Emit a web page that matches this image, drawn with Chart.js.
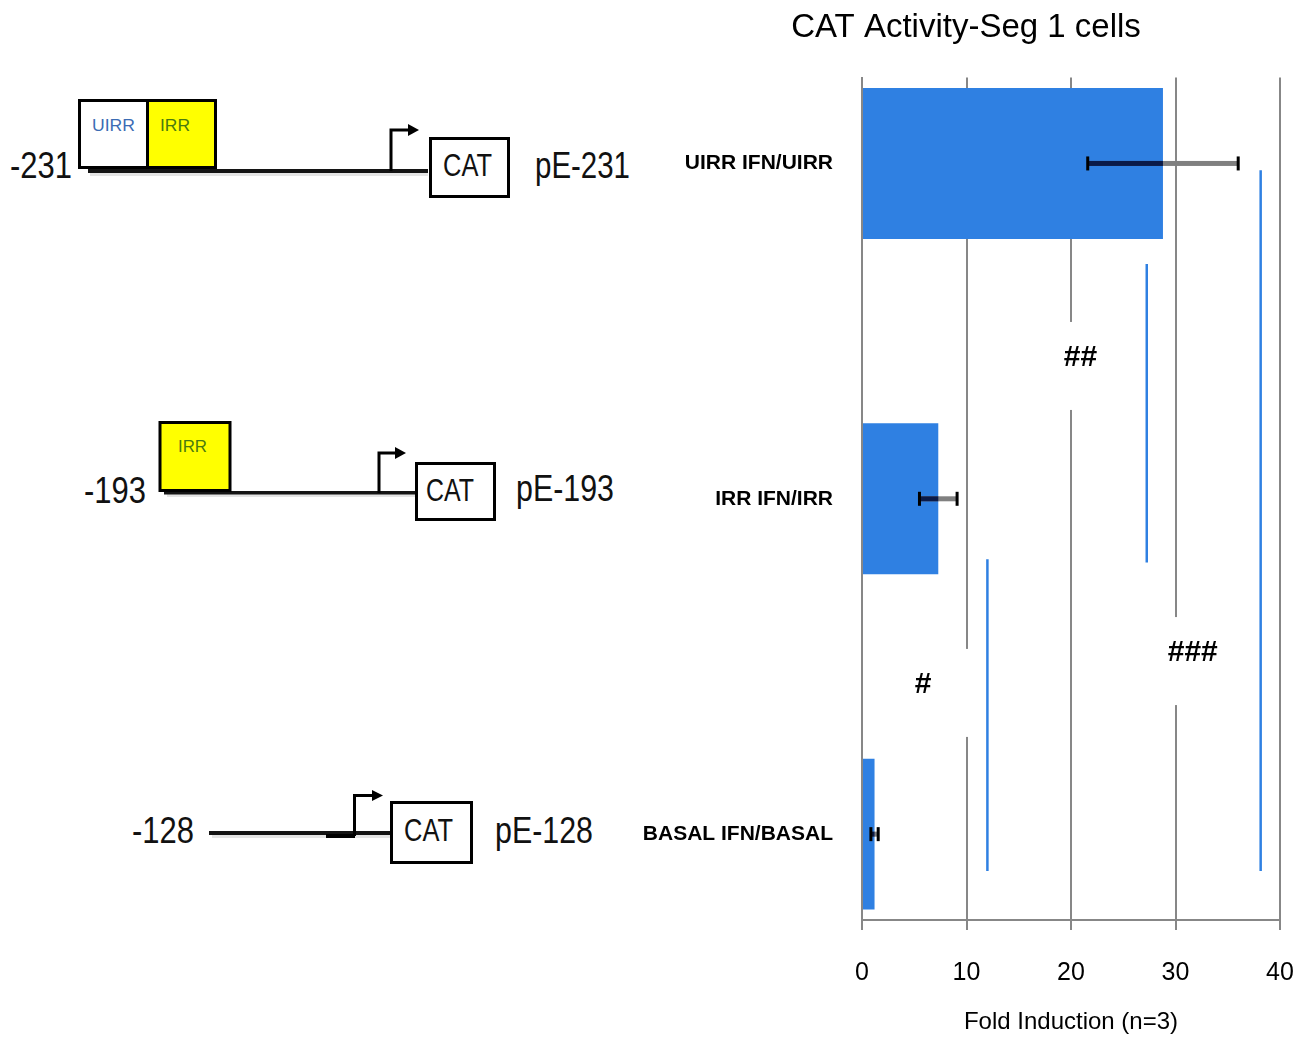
<!DOCTYPE html>
<html>
<head>
<meta charset="utf-8">
<script src="https://cdn.jsdelivr.net/npm/chart.js@4.4.0/dist/chart.umd.min.js"></script>
<style>
  html, body { margin: 0; padding: 0; background: #fff; }
  #wrap { position: relative; width: 1309px; height: 1038px; overflow: hidden; }
  #diagram { position: absolute; left: 0; top: 0; }
  #diagram text { font-family: "Liberation Sans", Arial, sans-serif; fill: #111; }
  #chartBox { position: absolute; left: 630px; top: 0; }
</style>
</head>
<body>
<div id="wrap">
  <svg id="diagram" width="640" height="1038" xmlns="http://www.w3.org/2000/svg">
    <!-- pE-231 -->
    <text x="10" y="178" font-size="36" textLength="62" lengthAdjust="spacingAndGlyphs">-231</text>
    <rect x="90" y="173" width="338" height="3" fill="#e4e4e4"/>
    <rect x="88" y="169" width="340" height="4" fill="#141414"/>
    <rect x="79.5" y="100.5" width="68" height="67" fill="#fff" stroke="#000" stroke-width="3"/>
    <rect x="147.5" y="100.5" width="68" height="67" fill="#ffff00" stroke="#000" stroke-width="3"/>
    <text x="92" y="131" font-size="17" textLength="43" lengthAdjust="spacingAndGlyphs" style="fill:#3b6cb4">UIRR</text>
    <text x="160" y="131" font-size="17" textLength="30" lengthAdjust="spacingAndGlyphs" style="fill:#4a7a10">IRR</text>
    <polyline points="391,171 391,130 412,130" fill="none" stroke="#000" stroke-width="3"/>
    <polygon points="408,124 419,130 408,136" fill="#000"/>
    <rect x="430.5" y="138.5" width="78" height="58" fill="#fff" stroke="#000" stroke-width="3"/>
    <text x="443" y="176" font-size="32" textLength="49" lengthAdjust="spacingAndGlyphs">CAT</text>
    <text x="535" y="178" font-size="36" textLength="95" lengthAdjust="spacingAndGlyphs">pE-231</text>

    <!-- pE-193 -->
    <text x="84" y="503" font-size="36" textLength="62" lengthAdjust="spacingAndGlyphs">-193</text>
    <rect x="167" y="494" width="248" height="3" fill="#e4e4e4"/>
    <rect x="164" y="491" width="251" height="3.5" fill="#141414"/>
    <rect x="160" y="422.5" width="70" height="68" fill="#ffff00" stroke="#000" stroke-width="3"/>
    <text x="178" y="452" font-size="17" textLength="29" lengthAdjust="spacingAndGlyphs" style="fill:#4a7a10">IRR</text>
    <polyline points="379,493 379,453 398,453" fill="none" stroke="#000" stroke-width="3"/>
    <polygon points="395,447 406,453 395,459" fill="#000"/>
    <rect x="416.5" y="463.5" width="78" height="56" fill="#fff" stroke="#000" stroke-width="3"/>
    <text x="426" y="501" font-size="32" textLength="48" lengthAdjust="spacingAndGlyphs">CAT</text>
    <text x="516" y="501" font-size="36" textLength="98" lengthAdjust="spacingAndGlyphs">pE-193</text>

    <!-- pE-128 -->
    <text x="132" y="843" font-size="36" textLength="62" lengthAdjust="spacingAndGlyphs">-128</text>
    <rect x="212" y="835" width="178" height="3" fill="#e4e4e4"/>
    <rect x="209" y="831" width="181" height="4" fill="#141414"/>
    <rect x="326" y="834" width="29" height="4" fill="#000"/>
    <polyline points="354.5,836 354.5,795.5 376,795.5" fill="none" stroke="#000" stroke-width="3"/>
    <polygon points="372,790 383,795.5 372,801" fill="#000"/>
    <rect x="391.5" y="802.5" width="80" height="60" fill="#fff" stroke="#000" stroke-width="3"/>
    <text x="404" y="841" font-size="32" textLength="49" lengthAdjust="spacingAndGlyphs">CAT</text>
    <text x="495" y="843" font-size="36" textLength="98" lengthAdjust="spacingAndGlyphs">pE-128</text>
  </svg>
  <div id="chartBox"><canvas id="chart" width="672" height="1038"></canvas></div>
</div>
<script>
const constructs = ['UIRR IFN/UIRR', 'IRR IFN/IRR', 'BASAL IFN/BASAL'];
const foldInduction = [28.8, 7.3, 1.2];
const foldError = [7.2, 1.8, 0.35];
const xTicks = [0, 10, 20, 30, 40];

// significance brackets: fold position and the rows they join
const sigX = [38.15, 27.25, 12.0];
const sigFrom = [0.02, 0.3, 1.18];
const sigTo = [2.11, 1.19, 2.11];
const sigLabels = ['###', '##', '#'];
const sigLabelX = [31.65, 20.9, 5.85];
const sigLabelRow = [1.46, 0.58, 1.555];

const gridGray = '#878787';
const barBlue = '#2f80e2';
const family = '"Liberation Sans", Arial, sans-serif';

const markLabels = {
  id: 'markLabels',
  beforeDatasetsDraw(chart) {
    const {ctx, scales: {x, y}} = chart;
    ctx.save();
    sigLabels.forEach((txt, i) => {
      const px = x.getPixelForValue(sigLabelX[i]);
      const py = y.getPixelForValue(sigLabelRow[i]);
      ctx.fillStyle = '#fff';
      ctx.fillRect(px - 50, py - 36, 100, 88);
      ctx.fillStyle = '#000';
      ctx.font = 'bold 30px ' + family;
      ctx.textAlign = 'center';
      ctx.textBaseline = 'middle';
      ctx.fillText(txt, px, py);
    });
    ctx.restore();
  }
};

const errorBars = {
  id: 'errorBars',
  afterDatasetsDraw(chart) {
    const {ctx, scales: {x}} = chart;
    const meta = chart.getDatasetMeta(0);
    ctx.save();
    meta.data.forEach((bar, i) => {
      const lo = x.getPixelForValue(foldInduction[i] - foldError[i]);
      const hi = x.getPixelForValue(foldInduction[i] + foldError[i]);
      const end = bar.x;
      const cy = bar.y;
      ctx.fillStyle = '#808080';
      ctx.fillRect(lo, cy - 2.5, hi - lo, 5);
      ctx.fillStyle = '#0a1a48';
      ctx.fillRect(lo, cy - 2.5, Math.min(hi, end) - lo, 5);
      ctx.fillStyle = '#000';
      ctx.fillRect(lo - 1.5, cy - 7, 3, 14);
      ctx.fillRect(hi - 1.5, cy - 7, 3, 14);
    });
    ctx.restore();
  }
};

const datasets = [{
  type: 'bar',
  indexAxis: 'y',
  data: foldInduction.map((v, i) => ({x: v, y: i})),
  backgroundColor: barBlue,
  borderWidth: 0,
  barPercentage: 0.9,
  categoryPercentage: 0.5
}];
sigX.forEach((sx, i) => {
  datasets.push({
    type: 'line',
    data: [{x: sx, y: sigFrom[i]}, {x: sx, y: sigTo[i]}],
    borderColor: barBlue,
    borderWidth: 2.5,
    pointRadius: 0,
    fill: false
  });
});

new Chart(document.getElementById('chart').getContext('2d'), {
  type: 'bar',
  data: {datasets: datasets},
  options: {
    indexAxis: 'y',
    responsive: false,
    animation: false,
    layout: {padding: 0},
    plugins: {
      legend: {display: false},
      tooltip: {enabled: false},
      title: {
        display: true,
        text: 'CAT Activity-Seg 1 cells',
        color: '#000',
        font: {family: family, size: 33, weight: 'normal'},
        padding: {top: 8, bottom: 30}
      }
    },
    scales: {
      x: {
        type: 'linear',
        min: 0,
        max: 40,
        offset: false,
        afterBuildTicks: s => { s.ticks = xTicks.map(v => ({value: v})); },
        afterFit: s => { s.height = 118; s.paddingLeft = 0; s.paddingRight = 22; },
        grid: {color: gridGray, lineWidth: 2, tickLength: 10, tickColor: gridGray, offset: false},
        border: {display: true, color: gridGray, width: 2},
        ticks: {color: '#000', font: {family: family, size: 25}, padding: 28, maxRotation: 0},
        title: {
          display: true,
          text: 'Fold Induction (n=3)',
          color: '#000',
          font: {family: family, size: 24},
          padding: {top: 0, bottom: 1}
        }
      },
      y: {
        type: 'linear',
        reverse: true,
        min: -0.256,
        max: 2.256,
        offset: false,
        beginAtZero: false,
        afterBuildTicks: s => { s.ticks = constructs.map((c, i) => ({value: i})); },
        afterFit: s => { s.width = 232; s.paddingTop = 0; s.paddingBottom = 0; },
        grid: {display: false, drawTicks: false, offset: false},
        border: {display: true, color: gridGray, width: 2},
        ticks: {
          color: '#000',
          font: {family: family, size: 21, weight: 'bold'},
          padding: 29,
          callback: v => constructs[Math.round(v)]
        }
      }
    }
  },
  plugins: [markLabels, errorBars]
});
</script>
</body>
</html>
